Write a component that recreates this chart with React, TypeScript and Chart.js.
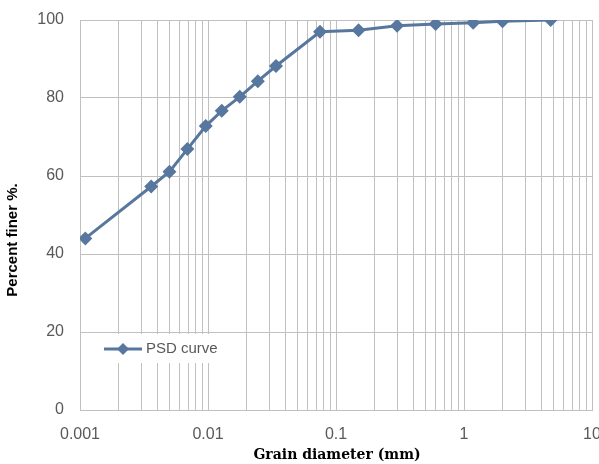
import { useEffect, useRef } from 'react';
import { Chart, registerables } from 'chart.js';

Chart.register(...registerables);

const grainDiameters = [0.0011, 0.0036, 0.005, 0.0069, 0.0096, 0.0128, 0.0177, 0.0245, 0.034, 0.075, 0.15, 0.3, 0.6, 1.18, 2, 4.75];
const percentFiner = [44.0, 57.3, 61.1, 66.9, 72.8, 76.7, 80.3, 84.3, 88.2, 97.0, 97.4, 98.5, 99.0, 99.3, 99.7, 100];
const decadeValues = [0.001, 0.01, 0.1, 1, 10];
const decadeLabels = ['0.001', '0.01', '0.1', '1', '10'];
const minorMultipliers = [1, 2, 3, 4, 5, 6, 7, 8, 9];
const yTickValues = [0, 20, 40, 60, 80, 100];

const seriesName = 'PSD curve';
const xTitle = 'Grain diameter (mm)';
const yTitle = 'Percent finer %.';

const LINE_COLOR = '#57779f';
const GRID_COLOR = '#c0c0c0';
const TICK_COLOR = '#595959';
const SANS = '"Liberation Sans", Arial, sans-serif';

export default function App() {
  const ref = useRef<HTMLCanvasElement | null>(null);

  useEffect(() => {
    document.body.style.margin = '0';
    const canvas = ref.current;
    if (!canvas) return;

    const xTicks: number[] = [];
    for (let i = 0; i < decadeValues.length - 1; i++) {
      for (const m of minorMultipliers) xTicks.push(parseFloat((m * decadeValues[i]).toPrecision(6)));
    }
    xTicks.push(decadeValues[decadeValues.length - 1]);

    const overlay = {
      id: 'overlay',
      afterDraw(chart: any) {
        const ctx = chart.ctx as CanvasRenderingContext2D;
        ctx.save();
        // legend box inside plot
        ctx.fillStyle = '#ffffff';
        ctx.fillRect(100, 334, 126, 29);
        ctx.strokeStyle = LINE_COLOR;
        ctx.lineWidth = 3;
        ctx.beginPath();
        ctx.moveTo(104, 349);
        ctx.lineTo(142, 349);
        ctx.stroke();
        ctx.fillStyle = LINE_COLOR;
        ctx.beginPath();
        ctx.moveTo(123, 343);
        ctx.lineTo(129, 349);
        ctx.lineTo(123, 355);
        ctx.lineTo(117, 349);
        ctx.closePath();
        ctx.fill();
        ctx.fillStyle = TICK_COLOR;
        ctx.font = '15px ' + SANS;
        ctx.textBaseline = 'middle';
        ctx.textAlign = 'left';
        ctx.fillText(seriesName, 146, 349);

        // axis titles
        ctx.fillStyle = '#000000';
        ctx.font = 'bold 14px "DejaVu Serif", "Liberation Serif", serif';
        ctx.textAlign = 'center';
        ctx.fillText(xTitle, 337, 455);
        ctx.font = 'bold 15px ' + SANS;
        ctx.translate(13, 240);
        ctx.rotate(-Math.PI / 2);
        ctx.fillText(yTitle, 0, 0);
        ctx.restore();
      },
    };

    const chart = new Chart(canvas, {
      type: 'line',
      data: {
        datasets: [
          {
            label: seriesName,
            data: grainDiameters.map((x, i) => ({ x, y: percentFiner[i] })),
            borderColor: LINE_COLOR,
            backgroundColor: LINE_COLOR,
            borderWidth: 3,
            pointStyle: 'rectRot',
            pointRadius: 7,
            pointBorderWidth: 0,
            tension: 0,
          },
        ],
      },
      options: {
        animation: false,
        responsive: true,
        maintainAspectRatio: false,
        layout: { padding: { top: 20, right: 4, left: 0, bottom: 0 } },
        plugins: { legend: { display: false }, tooltip: { enabled: false } },
        scales: {
          x: {
            type: 'logarithmic',
            min: 0.001,
            max: 10,
            afterBuildTicks(scale: any) {
              scale.ticks = xTicks.map((v) => ({ value: v }));
            },
            afterFit(scale: any) {
              scale.height = 54;
              scale.paddingLeft = 0;
              scale.paddingRight = 0;
            },
            grid: { color: GRID_COLOR, lineWidth: 1, drawTicks: false },
            border: { color: GRID_COLOR },
            ticks: {
              autoSkip: false,
              maxRotation: 0,
              padding: 15,
              color: TICK_COLOR,
              font: { size: 16, family: SANS },
              callback(value: any) {
                const idx = decadeValues.findIndex((d) => Math.abs(d - Number(value)) / d < 1e-6);
                return idx >= 0 ? decadeLabels[idx] : '';
              },
            },
          },
          y: {
            type: 'linear',
            min: 0,
            max: 100,
            afterBuildTicks(scale: any) {
              scale.ticks = yTickValues.map((v) => ({ value: v }));
            },
            afterFit(scale: any) {
              scale.width = 80;
              scale.paddingTop = 0;
              scale.paddingBottom = 0;
            },
            grid: { color: GRID_COLOR, lineWidth: 1, drawTicks: false },
            border: { color: GRID_COLOR },
            ticks: {
              padding: 16,
              color: TICK_COLOR,
              font: { size: 16, family: SANS },
            },
          },
        },
      },
      plugins: [overlay],
    });

    return () => chart.destroy();
  }, []);

  return (
    <div style={{ width: 599, height: 464, position: 'relative', overflow: 'hidden' }}>
      <canvas ref={ref} />
    </div>
  );
}
